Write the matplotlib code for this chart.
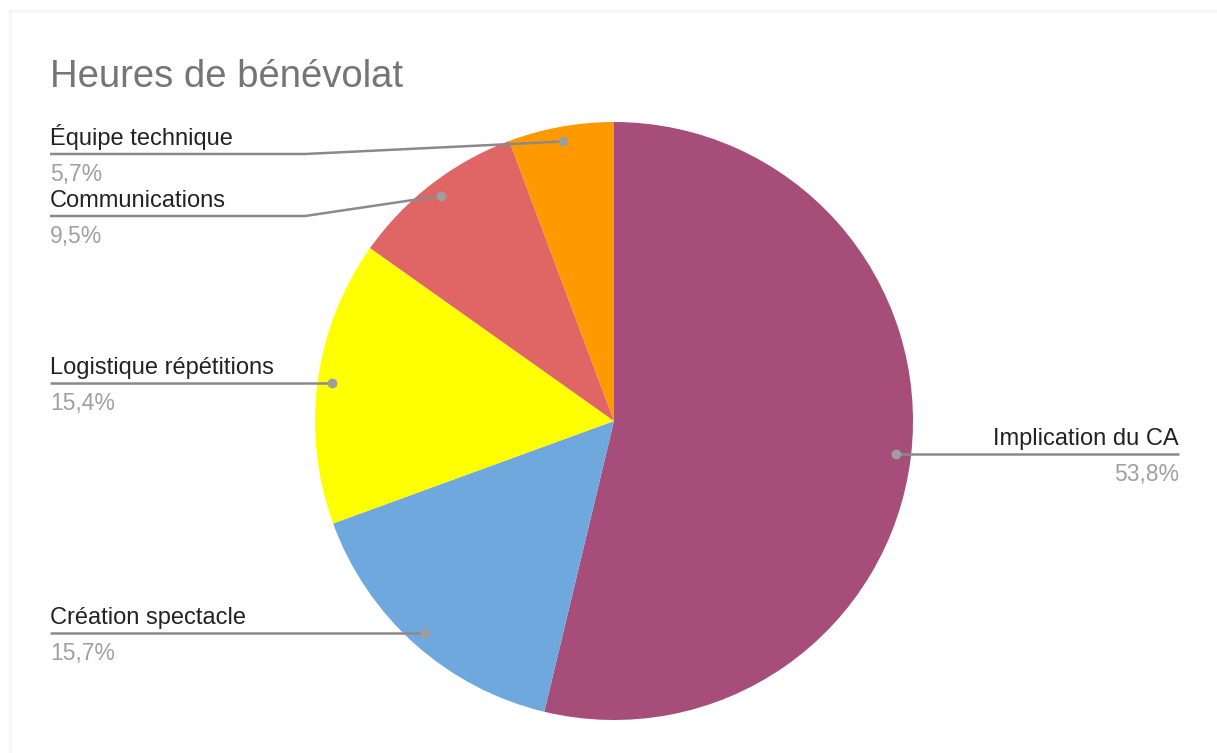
import matplotlib
matplotlib.use('Agg')
import matplotlib.pyplot as plt
import numpy as np

categories = ["Implication du CA", "Création spectacle", "Logistique répétitions",
              "Communications", "Équipe technique"]
values = [53.8, 15.7, 15.4, 9.5, 5.7]
pct_labels = ["53,8%", "15,7%", "15,4%", "9,5%", "5,7%"]
colors = ["#a64d79", "#6fa8dc", "#ffff00", "#e06666", "#ff9900"]
title = "Heures de bénévolat"

plt.rcParams['font.family'] = ['Liberation Sans', 'DejaVu Sans']

W, H = 1217, 753
fig = plt.figure(figsize=(W / 100, H / 100), dpi=100)
fig.patch.set_facecolor('white')
cx, cy, R = 614, 421, 299
ax = fig.add_axes([(cx - R) / W, (H - cy - R) / H, 2 * R / W, 2 * R / H])
wedges, _ = ax.pie(values, colors=colors, startangle=90, counterclock=False,
                   radius=1, wedgeprops=dict(linewidth=0))
ax.set_xlim(-1, 1)
ax.set_ylim(-1, 1)
ax.axis('off')

ov = fig.add_axes([0, 0, 1, 1])
ov.set_xlim(0, W)
ov.set_ylim(H, 0)
ov.axis('off')
ov.patch.set_alpha(0)

# faint frame bands (top and left)
ov.plot([8, W], [10.5, 10.5], color='#f5f5f5', lw=2.4, solid_capstyle='butt')
ov.plot([9.5, 9.5], [9, H], color='#f5f5f5', lw=2.4, solid_capstyle='butt')

ov.text(50, 87, title, fontsize=27.5, color='#757575', ha='left', va='baseline')

fig.canvas.draw()
to_ov = ov.transData.inverted()
side = ['right', 'left', 'left', 'left', 'left']
elbow = {3: (305, 216), 4: (305, 154)}
line_color = '#8a8a8a'
for i, w in enumerate(wedges):
    th = np.deg2rad((w.theta1 + w.theta2) / 2)
    p = ax.transData.transform((0.95 * np.cos(th), 0.95 * np.sin(th)))
    dx, dy = to_ov.transform(p)
    if i in elbow:
        ex, ey = elbow[i]
        xs, ys = [dx, ex, 50], [dy, ey, ey]
        ly = ey
    else:
        ly = dy
        xs, ys = ([dx, 1179], [dy, dy]) if side[i] == 'right' else ([dx, 50], [dy, dy])
    ov.plot(xs, ys, color=line_color, lw=1.8, solid_capstyle='butt', zorder=3)
    ov.plot([dx], [dy], 'o', color='#9e9e9e', ms=6, zorder=4)
    if side[i] == 'right':
        tx, ha = 1179, 'right'
    else:
        tx, ha = 50, 'left'
    ov.text(tx, ly - 9, categories[i], fontsize=17, color='#222222', ha=ha, va='baseline')
    ov.text(tx, ly + 9, pct_labels[i], fontsize=16.5, color='#a0a0a0', ha=ha, va='top')

fig.savefig('out.png', dpi=100, facecolor='white')
